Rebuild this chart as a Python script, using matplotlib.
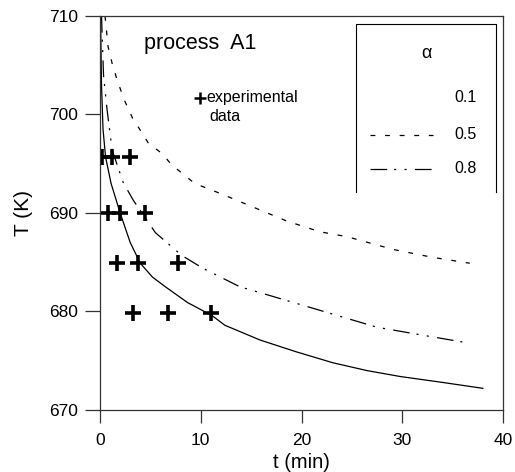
import matplotlib
matplotlib.use("Agg")
import matplotlib.pyplot as plt

plt.rcParams['font.family'] = ['Liberation Sans', 'DejaVu Sans']
plt.rcParams['lines.scale_dashes'] = False

# --- data ---
t_a01 = [0.05, 0.15, 0.3, 0.55, 1.1, 2.0, 3.0, 4.0, 5.2, 6.5, 8.7, 11.1, 12.4, 15.9, 19.5, 23.1, 26.5, 29.8, 34.0, 38.0]
T_a01 = [710.0, 703.0, 698.5, 695.7, 693.0, 690.0, 687.0, 684.9, 683.5, 682.5, 680.9, 679.6, 678.6, 677.1, 675.9, 674.8, 674.0, 673.4, 672.8, 672.2]

t_a05 = [0.5, 0.8, 1.2, 1.7, 2.4, 3.2, 4.8, 6.2, 7.1, 9.4, 11.9, 15.2, 18.5, 21.8, 24.5, 29.1, 33.0, 36.7]
T_a05 = [710.0, 706.9, 705.2, 703.5, 701.5, 699.7, 697.1, 696.0, 694.9, 693.0, 692.0, 690.6, 689.2, 688.1, 687.6, 686.3, 685.5, 684.9]

t_a08 = [0.15, 0.35, 0.7, 1.2, 2.3, 3.3, 5.5, 6.3, 8.1, 10.2, 13.9, 15.6, 20.9, 27.5, 32.0, 36.0]
T_a08 = [710.0, 704.0, 700.5, 696.4, 693.1, 691.3, 688.0, 687.3, 685.7, 684.4, 682.5, 682.0, 680.4, 678.4, 677.6, 676.9]

t_exp = [0.17, 1.16, 2.98, 0.83, 1.99, 4.47, 1.66, 3.80, 7.71, 3.31, 6.78, 11.02]
T_exp = [695.7, 695.7, 695.7, 690.0, 690.0, 690.0, 684.9, 684.9, 684.9, 679.8, 679.8, 679.8]

alpha_labels = ['0.1', '0.5', '0.8']
x_ticks = [0, 10, 20, 30, 40]
y_ticks = [670, 680, 690, 700, 710]

W, H = 515, 472
fig = plt.figure(figsize=(W / 100, H / 100), dpi=100)
ax = fig.add_axes([100 / W, 1 - 410 / H, 403 / W, 394 / H])

lw = 0.9
ax.plot(t_a01, T_a01, color='black', lw=lw)
ax.plot(t_a05, T_a05, color='black', lw=lw, dashes=(3.5, 7))
dd = (12, 5, 1.5, 6, 1.5, 6)
ax.plot(t_a08, T_a08, color='black', lw=lw, dashes=dd)
ax.plot(t_exp, T_exp, ls='none', marker='+', ms=12, mew=2.6, color='black')

ax.set_xlim(0, 40)
ax.set_ylim(670, 710)
ax.set_xticks(x_ticks)
ax.set_yticks(y_ticks)
ax.tick_params(axis='both', direction='out', labelsize=12.5, width=0.9, color='#333333')
ax.tick_params(axis='x', length=9.5, pad=7)
ax.tick_params(axis='y', length=11, pad=5)
for s in ax.spines.values():
    s.set_linewidth(0.9)
    s.set_color('#333333')

ax.set_xlabel('t (min)', fontsize=14.5, labelpad=4)
ax.set_ylabel('T (K)', fontsize=15, labelpad=11)

tr = ax.transAxes
ax.text(0.248, 0.931, 'process  A1', transform=tr, fontsize=15.5, ha='center', va='center')
ax.plot([0.248], [0.792], transform=tr, marker='+', ms=8, mew=1.8, color='black', clip_on=False)
ax.text(0.263, 0.792, 'experimental', transform=tr, fontsize=11.5, ha='left', va='center')
ax.text(0.310, 0.746, 'data', transform=tr, fontsize=11.5, ha='center', va='center')

# legend-like box
bx0, bx1, by0, by1 = 0.635, 0.983, 0.553, 0.980
ax.plot([bx0, bx0, bx1, bx1], [by0, by1, by1, by0], transform=tr, color='black', lw=0.8, clip_on=False)
ax.text(0.809, 0.906, 'α', transform=tr, fontsize=13, ha='center', va='center')
ys = [0.792, 0.698, 0.612]
for lab, y in zip(alpha_labels, ys):
    ax.text(0.906, y, lab, transform=tr, fontsize=11.5, ha='center', va='center')
ax.plot([0.670, 0.826], [ys[1], ys[1]], transform=tr, color='black', lw=lw, dashes=(3.5, 7))
ax.plot([0.670, 0.826], [ys[2], ys[2]], transform=tr, color='black', lw=lw, dashes=dd)

fig.savefig('out.png', dpi=100)
